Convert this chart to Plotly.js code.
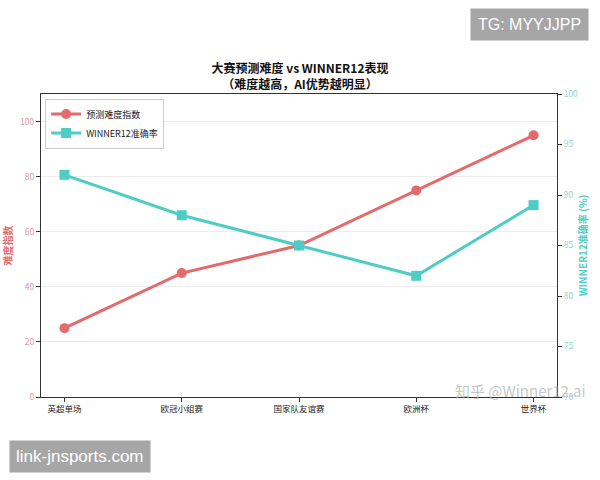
<!DOCTYPE html>
<html><head><meta charset="utf-8">
<script src="https://cdn.plot.ly/plotly-3.0.1.min.js"></script>
<style>html,body{margin:0;padding:0;background:#fff}#c{width:600px;height:480px}</style>
</head><body><div id="c"></div>
<script>
const categories = ['英超单场','欧冠小组赛','国家队友谊赛','欧洲杯','世界杯'];
const difficulty = [25, 45, 55, 75, 95];
const accuracy = [92, 88, 85, 82, 89];
const leftTicks = [0, 20, 40, 60, 80, 100];
const rightTicks = [70, 75, 80, 85, 90, 95, 100];

const red = '#e46a6b', teal = '#4ecdc4';
const F = '"Noto Sans CJK SC", "DejaVu Sans", sans-serif';

const traces = [
  {x: categories, y: difficulty, name: '预测难度指数', type: 'scatter', mode: 'lines+markers',
   line: {color: red, width: 3}, marker: {symbol: 'circle', size: 10, color: red}, yaxis: 'y'},
  {x: categories, y: accuracy, name: 'WINNER12准确率', type: 'scatter', mode: 'lines+markers',
   line: {color: teal, width: 3}, marker: {symbol: 'square', size: 10, color: teal}, yaxis: 'y2'}
];

const layout = {
  width: 600, height: 480,
  margin: {l: 41, r: 43, t: 94, b: 83},
  paper_bgcolor: '#fff', plot_bgcolor: '#fff',
  font: {family: F, size: 9, color: '#222'},
  title: {text: '<b>大赛预测难度 vs WINNER12表现</b><br><b>（难度越高，AI优势越明显）</b>',
          x: 0.5, xanchor: 'center', y: 0.847, yanchor: 'middle', font: {size: 12, color: '#111', family: F}},
  xaxis: {type: 'category', range: [-0.2, 4.2], showgrid: false, zeroline: false,
          showline: true, linecolor: '#333', linewidth: 1, mirror: true,
          ticks: 'outside', ticklen: 4, tickcolor: '#333', tickfont: {size: 8.5, color: '#222'}},
  yaxis: {range: [0, 110], tickvals: leftTicks, showgrid: true, gridcolor: '#ececec', gridwidth: 1,
          zeroline: false, showline: true, linecolor: '#333', linewidth: 1,
          ticks: 'outside', ticklen: 4, tickcolor: '#333', tickfont: {size: 8.5, color: '#d99aa6'},
          title: {text: '<b>难度指数</b>', font: {size: 10, color: red}, standoff: 10}},
  yaxis2: {range: [70, 100], tickvals: rightTicks, overlaying: 'y', side: 'right', showgrid: false,
          zeroline: false, showline: true, linecolor: '#333', linewidth: 1,
          ticks: 'outside', ticklen: 4, tickcolor: '#333', tickfont: {size: 8.5, color: '#8fd6c8'},
          title: {text: '<b>WINNER12准确率 (%)</b>', font: {size: 10, color: teal}, standoff: 2}},
  legend: {x: 0.008, y: 0.985, xanchor: 'left', yanchor: 'top', bgcolor: 'rgba(255,255,255,0.9)',
           bordercolor: '#ccc', borderwidth: 1, font: {size: 9, color: '#222'}, tracegroupgap: 2},
  showlegend: true,
  annotations: [
    {text: 'TG: MYYJJPP', xref: 'paper', yref: 'paper', x: 1.062, y: 1.285, xanchor: 'right', yanchor: 'top',
     showarrow: false, bgcolor: '#a6a6a6', font: {size: 16, color: '#fff', family: 'Liberation Sans'},
     borderpad: 7},
    {text: 'link-jnsports.com', xref: 'paper', yref: 'paper', x: -0.062, y: -0.142, xanchor: 'left', yanchor: 'top',
     showarrow: false, bgcolor: '#a6a6a6', font: {size: 17, color: '#fff', family: 'Liberation Sans'},
     borderpad: 6},
    {text: '知乎 @Winner12.ai', xref: 'paper', yref: 'paper', x: 1.06, y: 0.02, xanchor: 'right', yanchor: 'middle',
     showarrow: false, font: {size: 15, color: 'rgba(180,180,180,0.75)', family: F}}
  ]
};

Plotly.newPlot('c', traces, layout, {displayModeBar: false, staticPlot: true});
</script></body></html>
